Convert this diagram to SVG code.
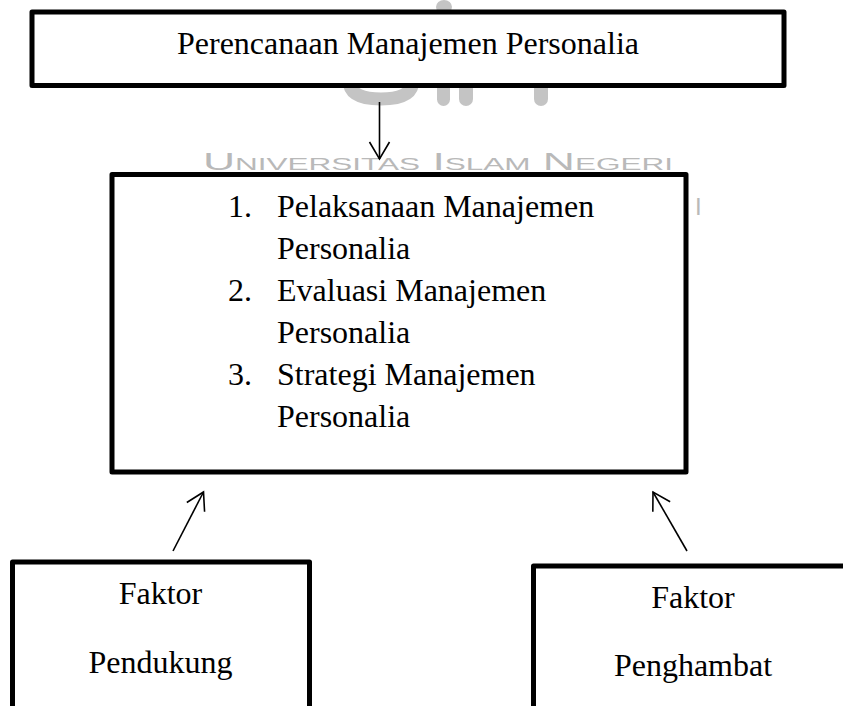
<svg xmlns="http://www.w3.org/2000/svg" width="843" height="706" viewBox="0 0 843 706">
<style>
.box{fill:#fff;stroke:#000;stroke-width:5;stroke-linejoin:round}
.t{font-family:"Liberation Serif","Times New Roman",serif;font-size:32px;fill:#000}
.c{text-anchor:middle}
.conn{stroke:#000;stroke-width:1.6;fill:none}
.wm{fill:#c4c4c4}
.wmt{font-family:"Liberation Sans",Arial,sans-serif;font-size:24px;font-variant:small-caps;fill:#b9b9b9}
</style>
<defs>
<marker id="arr" viewBox="-19 -12 21 24" refX="0" refY="0" markerUnits="userSpaceOnUse" markerWidth="21" markerHeight="24" orient="auto">
<path d="M -17 -10 L 0 0 L -17 10" fill="none" stroke="#000" stroke-width="1.6"/>
</marker>
</defs>
<rect width="843" height="706" fill="#fff"/>
<g id="watermark">
<rect class="wm" x="436" y="0" width="16" height="14" rx="8"/>
<path d="M 349 80 Q 349 99 381 99 Q 413 99 413 80" fill="none" stroke="#c4c4c4" stroke-width="13"/>
<rect class="wm" x="437" y="80" width="13" height="26" rx="6.5"/>
<rect class="wm" x="459" y="80" width="14" height="26" rx="7"/>
<rect class="wm" x="534" y="80" width="14" height="26" rx="7"/>
<text class="wmt" x="203" y="170" textLength="470" lengthAdjust="spacingAndGlyphs">Universitas Islam Negeri</text>
<text class="wmt" x="695" y="215" font-size="30">I</text>
</g>
<g id="node-perencanaan">
<rect class="box" x="32" y="12" width="752" height="73.5"/>
<text class="t c" x="408" y="54">Perencanaan Manajemen Personalia</text>
</g>
<g id="node-manajemen">
<rect class="box" x="112" y="174.5" width="574" height="297.5"/>
<text class="t">
<tspan x="228" y="217">1.</tspan><tspan x="277" y="217">Pelaksanaan Manajemen</tspan>
<tspan x="277" y="259">Personalia</tspan>
<tspan x="228" y="301">2.</tspan><tspan x="277" y="301">Evaluasi Manajemen</tspan>
<tspan x="277" y="343">Personalia</tspan>
<tspan x="228" y="385">3.</tspan><tspan x="277" y="385">Strategi Manajemen</tspan>
<tspan x="277" y="427">Personalia</tspan>
</text>
</g>
<g id="node-pendukung">
<rect class="box" x="12.5" y="562" width="297" height="160"/>
<text class="t c" x="160.5" y="604">Faktor</text>
<text class="t c" x="160.5" y="673">Pendukung</text>
</g>
<g id="node-penghambat">
<rect class="box" x="533.5" y="566" width="330" height="160"/>
<text class="t c" x="693" y="608">Faktor</text>
<text class="t c" x="693" y="676">Penghambat</text>
</g>
<g id="connectors">
<line class="conn" x1="379.5" y1="102" x2="379.5" y2="159" marker-end="url(#arr)"/>
<line class="conn" x1="173" y1="551" x2="203.5" y2="492" marker-end="url(#arr)"/>
<line class="conn" x1="687" y1="551" x2="653" y2="492" marker-end="url(#arr)"/>
</g>
</svg>
